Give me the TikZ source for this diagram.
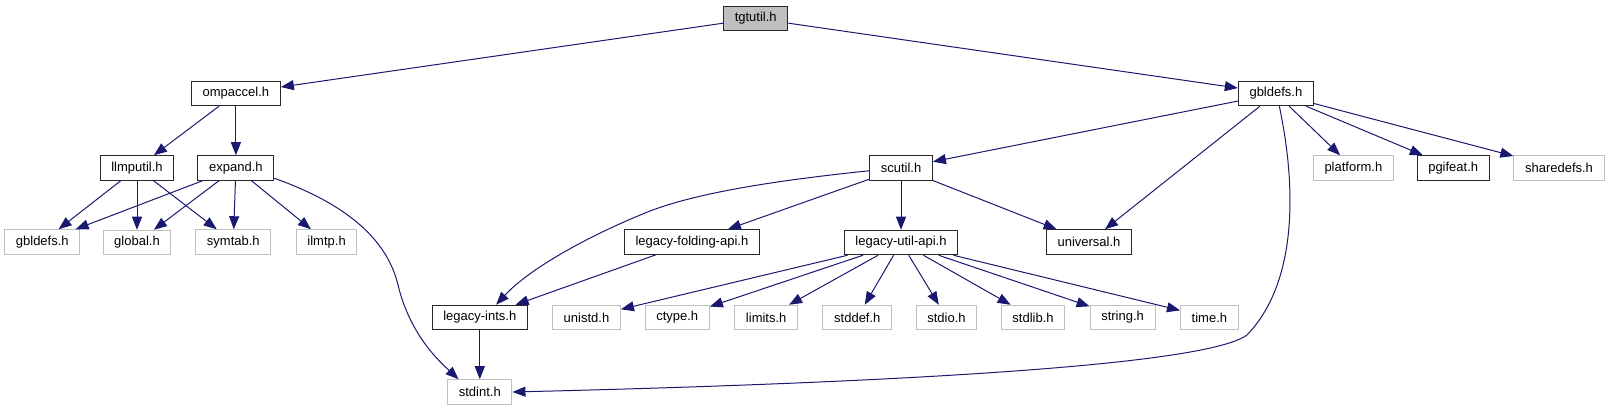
\documentclass[tikz,border=0pt]{standalone}
\usepackage{fontspec}
\setmainfont{Liberation Sans}
\usetikzlibrary{arrows.meta,positioning}
\definecolor{l1}{RGB}{25,25,112}
\definecolor{b0}{RGB}{40,40,40}
\definecolor{b1}{RGB}{191,191,191}
\definecolor{bg1}{RGB}{191,191,191}

\begin{document}
\begin{tikzpicture}[
    x=1pt, y=1pt,
    font=\fontsize{13}{15}\selectfont,
    l/.style={
        line width=1pt,
        color=l1,
        -{Triangle[length=13pt,width=10pt]}
    },
    e/.style={
        draw=b0, line width=1pt, fill=white,
        minimum height=24.5pt, inner xsep=11.2pt, inner ysep=0pt
    },
    s/.style={e, draw=b1},
    c/.style={e, fill=bg1}
]

\useasboundingbox (0,0) rectangle (1609,-411);

\node [c] (tgtutil) at (755.7,-18.5) {tgtutil.h};

\node [e] (ompaccel) at (235.9,-93.5) {ompaccel.h};
\node [e] (gbl) at (1275.9,-93.5) {gbldefs.h};

\node [e] (llmputil) at (137,-168) {llmputil.h};
\node [e] (expand) at (235.9,-168) {expand.h};
\node [e] (scutil) at (901,-168) {scutil.h};
\node [s] (platform) at (1353.4,-168) {platform.h};
\node [e] (pgifeat) at (1453.2,-168) {pgifeat.h};
\node [s] (sharedefs) at (1559,-168) {sharedefs.h};

\node [s] (gblsys) at (42.3,-242) {gbldefs.h};
\node [s,below=49pt of llmputil] (global) {global.h};
\node [s] (symtab) at (233.3,-242) {symtab.h};
\node [s] (ilmtp) at (326.6,-242) {ilmtp.h};
\node [e] (lfold) at (691.9,-242) {legacy-folding-api.h};
\node [e,below=49pt of scutil] (lutil) {legacy-util-api.h};
\node [e] (universal) at (1089,-242) {universal.h};

\node [e] (lints) at (479.8,-317.5) {legacy-ints.h};
\node [s] (unistd) at (586.5,-317.5) {unistd.h};
\node [s] (ctype) at (677.2,-317.5) {ctype.h};
\node [s] (limits) at (766.2,-317.5) {limits.h};
\node [s] (stddef) at (857.3,-317.5) {stddef.h};
\node [s] (stdio) at (946.5,-317.5) {stdio.h};
\node [s] (stdlib) at (1033,-317.5) {stdlib.h};
\node [s] (string) at (1122.6,-317.5) {string.h};
\node [s] (time) at (1209.4,-317.5) {time.h};

\node [s,below=49pt of lints] (stdint) {stdint.h};

\draw (tgtutil) edge [l] (ompaccel);
\draw (tgtutil) edge [l] (gbl);

\draw (ompaccel) edge [l] (llmputil);
\draw (ompaccel) edge [l] (expand);

\draw (llmputil) edge [l] (gblsys);
\draw (llmputil) edge [l] (global);
\draw (llmputil) edge [l] (symtab);

\draw (expand) edge [l] (gblsys);
\draw (expand) edge [l] (global);
\draw (expand) edge [l] (symtab);
\draw (expand) edge [l] (ilmtp);
\draw [l] (expand.-15) .. controls (330,-198) and (385,-230) .. (398,-285)
    .. controls (410,-335) and (440,-362) .. (stdint.149);

\draw (gbl) edge [l] (scutil);
\draw (gbl) edge [l] (universal);
\draw (gbl) edge [l] (platform);
\draw (gbl) edge [l] (pgifeat);
\draw (gbl) edge [l] (sharedefs);
\draw [l] (gbl.-75) .. controls (1295,-180) and (1300,-280) .. (1247,-335)
    .. controls (1200,-370) and (800,-385) .. (stdint.east);

\draw (scutil) edge [l] (lfold);
\draw (scutil) edge [l] (lutil);
\draw (scutil) edge [l] (universal);
\draw [l] (scutil.185) .. controls (780,-180) and (700,-192) .. (650,-211)
    .. controls (590,-235) and (530,-268) .. (lints.38);

\draw (lfold) edge [l] (lints);

\foreach \t in {unistd,ctype,limits,stddef,stdio,stdlib,string,time}
    \draw (lutil) edge [l] (\t);

\draw (lints) edge [l] (stdint);

\end{tikzpicture}
\end{document}
